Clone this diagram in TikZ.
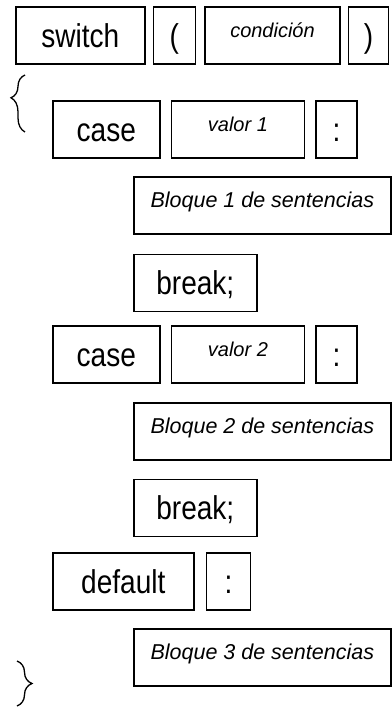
\documentclass[tikz,border=0pt]{standalone}
\usepackage{fontspec}
\setmainfont{Liberation Sans}
\newfontfamily\narrowsans[FakeStretch=0.85]{Liberation Sans}
\usepackage{tikz}
\usetikzlibrary{positioning}
\usetikzlibrary{decorations.pathreplacing}

\tikzset{
  keyword/.style={draw=black, line width=1.6pt, inner sep=0pt, minimum height=57pt,
    font=\narrowsans\fontsize{33}{33}\selectfont, text height=24pt, text depth=0pt},
  operand/.style={keyword, font=\itshape\fontsize{20}{20}\selectfont,
    text height=15pt, text depth=10pt},
  block/.style={operand, font=\itshape\fontsize{21.5}{21.5}\selectfont, minimum width=257pt},
  bracket/.style={draw=black, line width=1.3pt, decorate}
}

\begin{document}
\begin{tikzpicture}[x=1pt, y=-1pt]
  \useasboundingbox (0,0) rectangle (391,708);
  % cabecera: switch ( condicion )
  \node[keyword, minimum width=129pt, anchor=north west] (switch) at (15,6) {switch};
  \node[keyword, minimum width=42pt, right=7pt of switch] (lpar) {(};
  \node[operand, minimum width=135pt, right=8pt of lpar] (cond) {condición};
  \node[keyword, minimum width=40pt, right=7pt of cond] (rpar) {)};

  % primer case
  \node[keyword, minimum width=107pt, anchor=north west] (case1) at (52,100) {case};
  \node[operand, minimum width=133pt, right=10pt of case1] (val1) {valor 1};
  \node[keyword, minimum width=41pt, right=10pt of val1] (colon1) {:};
  \node[block, anchor=north west] (blk1) at (133,176) {Bloque 1 de sentencias};
  \node[keyword, minimum width=123pt, below=19pt of blk1.south west, anchor=north west] (brk1) {break;};

  % segundo case
  \node[keyword, minimum width=107pt, anchor=north west] (case2) at (52,325) {case};
  \node[operand, minimum width=133pt, right=10pt of case2] (val2) {valor 2};
  \node[keyword, minimum width=41pt, right=10pt of val2] (colon2) {:};
  \node[block, anchor=north west] (blk2) at (133,402) {Bloque 2 de sentencias};
  \node[keyword, minimum width=123pt, below=18pt of blk2.south west, anchor=north west] (brk2) {break;};

  % default
  \node[keyword, minimum width=141pt, anchor=north west] (dflt) at (52,552) {default};
  \node[keyword, minimum width=44pt, right=11pt of dflt] (colon3) {:};
  \node[block, anchor=north west] (blk3) at (133,628) {Bloque 3 de sentencias};

  % llaves
  \coordinate (open-bot) at (25,132);
  \coordinate (open-top) at (25,75);
  \coordinate (close-top) at (17,661);
  \coordinate (close-bot) at (17,706);
  \draw[bracket, decoration={brace, amplitude=14pt, aspect=0.6}] (open-bot) -- (open-top);
  \draw[bracket, decoration={brace, amplitude=15pt, aspect=0.5}] (close-top) -- (close-bot);
\end{tikzpicture}
\end{document}
